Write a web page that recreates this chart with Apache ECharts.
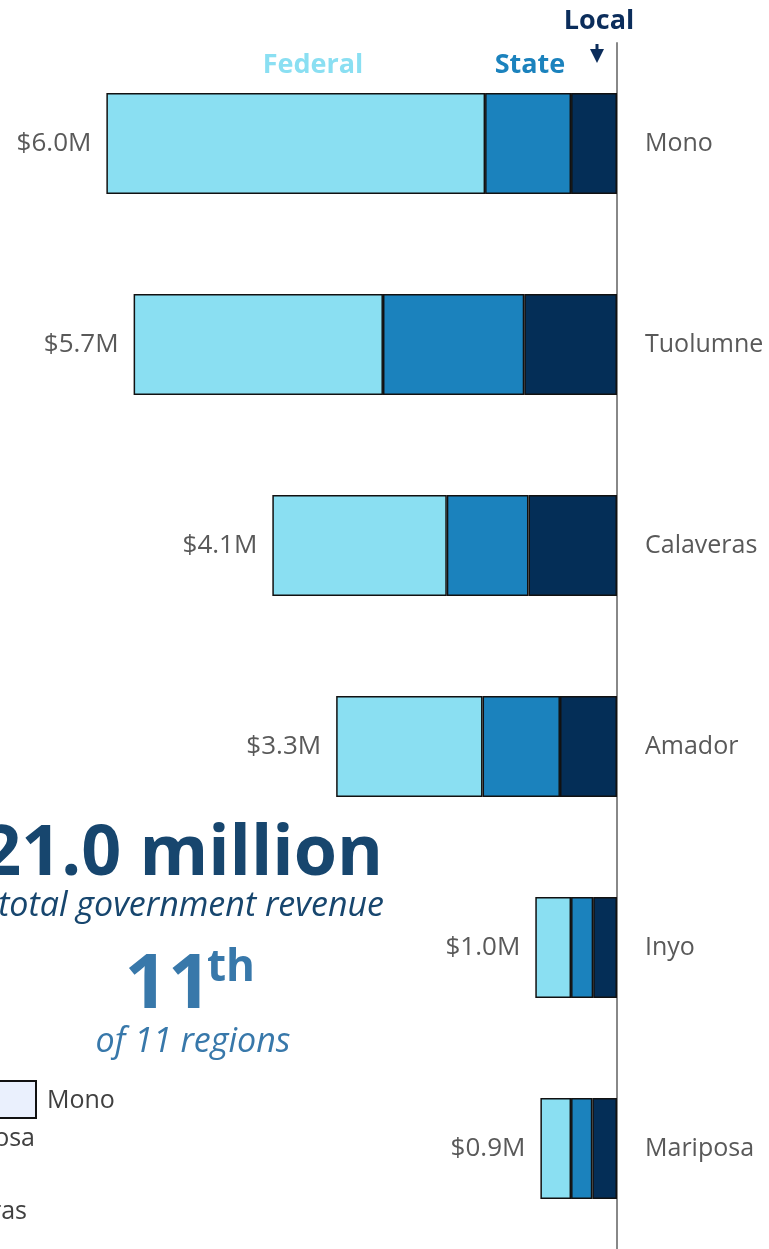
<!DOCTYPE html>
<html>
<head>
<meta charset="utf-8">
<script src="https://cdn.jsdelivr.net/npm/echarts@6/dist/echarts.min.js"></script>
<style>
html,body{margin:0;padding:0;background:#fff;}
#chart{width:769px;height:1249px;}
</style>
</head>
<body>
<div id="chart"></div>
<script>
var categories = ['Mono', 'Tuolumne', 'Calaveras', 'Amador', 'Inyo', 'Mariposa'];
var federal = [4.45, 2.93, 2.05, 1.72, 0.42, 0.36];
var state = [1.01, 1.66, 0.96, 0.91, 0.26, 0.25];
var local = [0.54, 1.09, 1.04, 0.67, 0.28, 0.29];
var totalLabels = ['$6.0M', '$5.7M', '$4.1M', '$3.3M', '$1.0M', '$0.9M'];

var FONT = '"Open Sans", "Noto Sans", sans-serif';
var chart = echarts.init(document.getElementById('chart'), null, {renderer: 'canvas'});

function seg(name, data, color, withLabel) {
  var s = {
    name: name,
    type: 'bar',
    stack: 'rev',
    data: data,
    barWidth: 101,
    itemStyle: {color: color, borderColor: '#111', borderWidth: 1.5},
    emphasis: {disabled: true},
    animation: false
  };
  if (withLabel) {
    s.label = {
      show: true,
      position: 'left',
      distance: 15,
      fontFamily: FONT,
      fontSize: 26,
      color: '#595959',
      formatter: function (p) { return totalLabels[p.dataIndex]; }
    };
  }
  return s;
}

var option = {
  backgroundColor: '#fff',
  animation: false,
  grid: {left: 0, right: 152, top: 43, height: 1212},
  xAxis: {
    type: 'value', min: 0, max: 7.25, inverse: true, show: false
  },
  yAxis: {
    type: 'category', data: categories, inverse: true, position: 'right',
    axisLine: {show: true, lineStyle: {color: '#888', width: 2}},
    axisTick: {show: false},
    axisLabel: {margin: 28, fontFamily: FONT, fontSize: 25, color: '#595959'}
  },
  series: [
    seg('Local', local, '#042E57', false),
    seg('State', state, '#1B82BD', false),
    seg('Federal', federal, '#8ADFF2', true)
  ],
  graphic: [
    {type: 'text', x: 313, y: 65, style: {text: 'Federal', fontFamily: FONT, fontWeight: 'bold', fontSize: 27, fill: '#8ADFF2', textAlign: 'center', textVerticalAlign: 'middle'}},
    {type: 'text', x: 530, y: 65, style: {text: 'State', fontFamily: FONT, fontWeight: 'bold', fontSize: 27, fill: '#1B82BD', textAlign: 'center', textVerticalAlign: 'middle'}},
    {type: 'text', x: 599, y: 21, style: {text: 'Local', fontFamily: FONT, fontWeight: 'bold', fontSize: 27, fill: '#0B2D5B', textAlign: 'center', textVerticalAlign: 'middle'}},
    {type: 'polygon', shape: {points: [[590, 49], [604, 49], [597, 63]]}, style: {fill: '#0B2D5B'}},
    {type: 'rect', shape: {x: 595.5, y: 44, width: 3, height: 6}, style: {fill: '#0B2D5B'}},
    {type: 'text', x: 383, y: 855, style: {text: '$21.0 million', fontFamily: FONT, fontWeight: 'bold', fontSize: 70, fill: '#17466E', textAlign: 'right', textVerticalAlign: 'middle'}},
    {type: 'text', x: 384, y: 906, style: {text: 'total government revenue', fontFamily: FONT, fontStyle: 'italic', fontSize: 34, fill: '#17466E', textAlign: 'right', textVerticalAlign: 'middle'}},
    {type: 'text', x: 168, y: 986, style: {text: '11', fontFamily: FONT, fontWeight: 'bold', fontSize: 76, fill: '#3878AA', textAlign: 'center', textVerticalAlign: 'middle'}},
    {type: 'text', x: 207, y: 968, style: {text: 'th', fontFamily: FONT, fontWeight: 'bold', fontSize: 44, fill: '#3878AA', textAlign: 'left', textVerticalAlign: 'middle'}},
    {type: 'text', x: 193, y: 1042, style: {text: 'of 11 regions', fontFamily: FONT, fontStyle: 'italic', fontSize: 34, fill: '#3878AA', textAlign: 'center', textVerticalAlign: 'middle'}},
    {type: 'rect', shape: {x: -5, y: 1081, width: 41, height: 37}, style: {fill: '#EAF0FD', stroke: '#111', lineWidth: 2}},
    {type: 'text', x: 47, y: 1101, style: {text: 'Mono', fontFamily: FONT, fontSize: 25, fill: '#404040', textAlign: 'left', textVerticalAlign: 'middle'}},
    {type: 'text', x: 35, y: 1139, style: {text: 'Mariposa', fontFamily: FONT, fontSize: 25, fill: '#404040', textAlign: 'right', textVerticalAlign: 'middle'}},
    {type: 'text', x: 27, y: 1212, style: {text: 'Calaveras', fontFamily: FONT, fontSize: 25, fill: '#404040', textAlign: 'right', textVerticalAlign: 'middle'}}
  ]
};
chart.setOption(option);
</script>
</body>
</html>
